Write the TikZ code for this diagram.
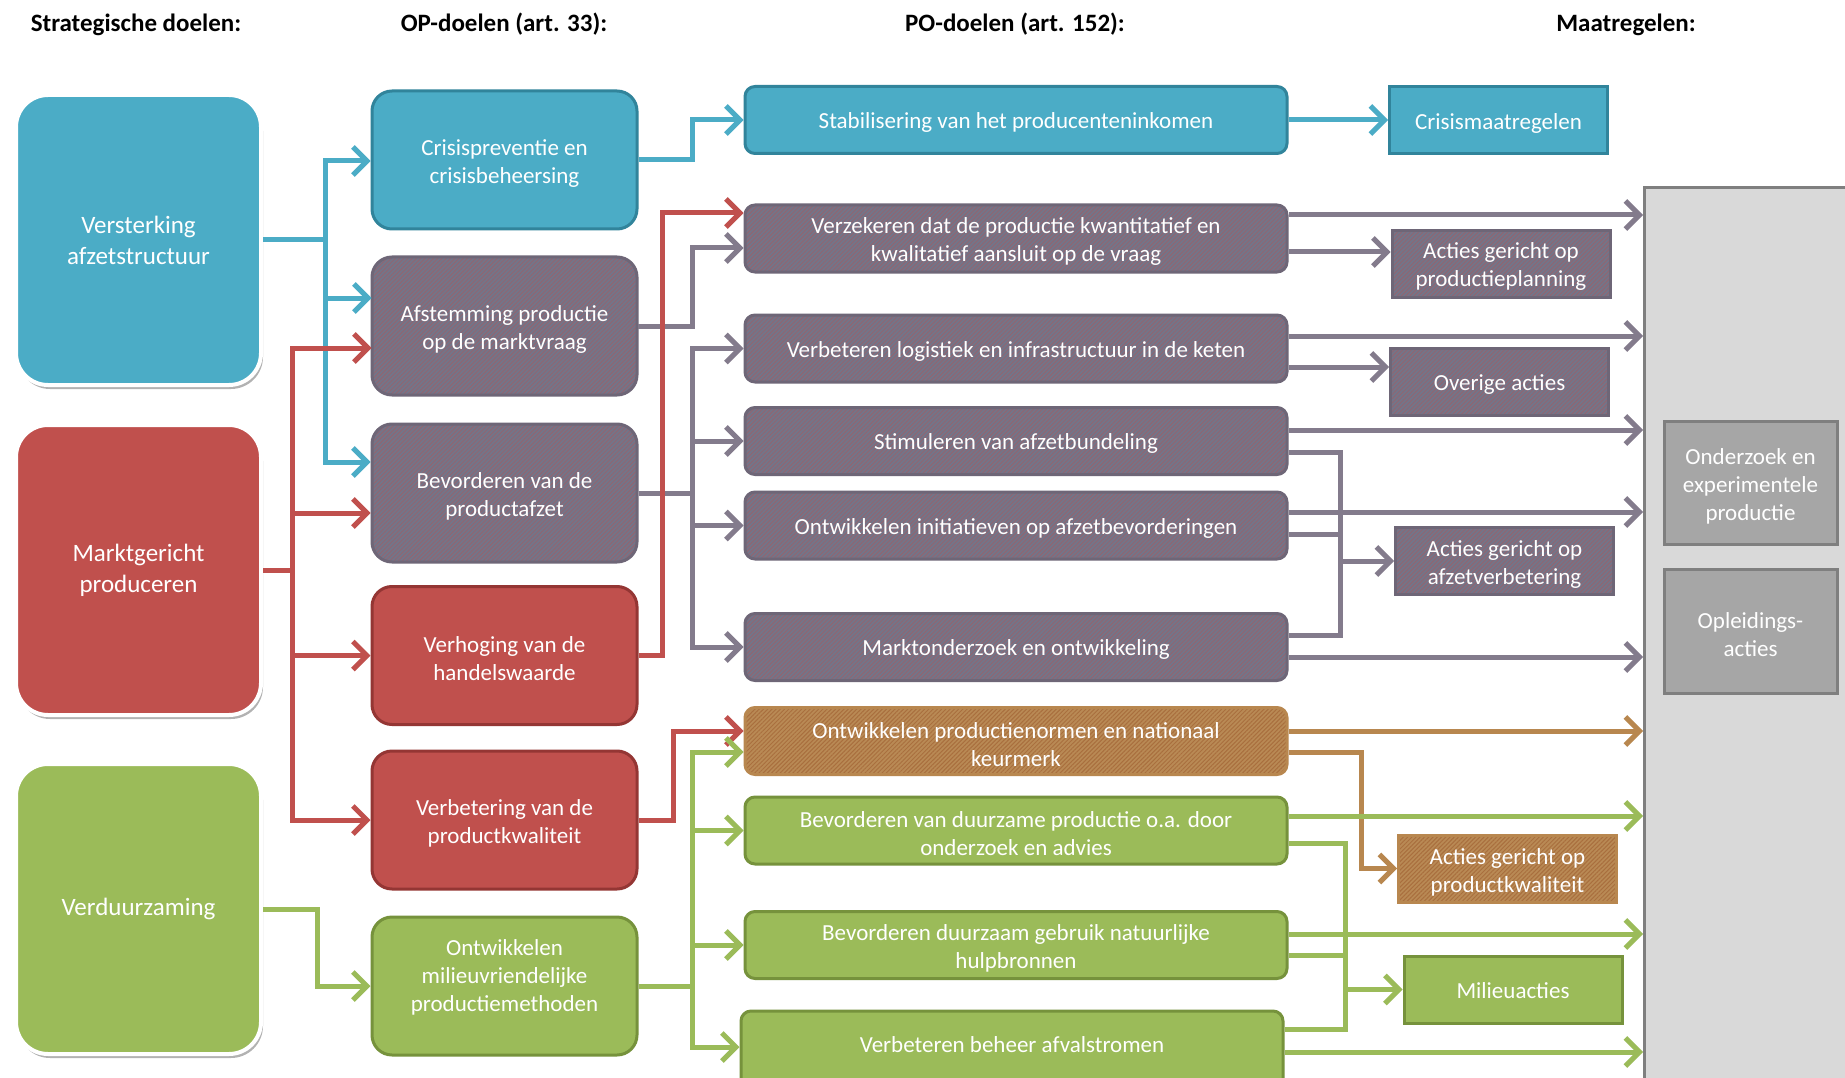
\documentclass[tikz,border=0pt]{standalone}
\usepackage{fontspec}
\setmainfont{Carlito}
\usetikzlibrary{arrows.meta,patterns.meta,shadows}
\definecolor{cblue}{HTML}{4BACC6}
\definecolor{cbluedk}{HTML}{31849B}
\definecolor{cred}{HTML}{C0504D}
\definecolor{creddk}{HTML}{943634}
\definecolor{cgreen}{HTML}{9BBB59}
\definecolor{cgreendk}{HTML}{76923C}
\definecolor{cgrey}{HTML}{837B8C}
\definecolor{cgreydk}{HTML}{6E6677}
\definecolor{cgreybase}{HTML}{737589}
\definecolor{cgreyhatch}{HTML}{8F6672}
\definecolor{cbrown}{HTML}{B8874F}
\definecolor{cbrownbase}{HTML}{B98A55}
\definecolor{cbrownhatch}{HTML}{A96F3E}
\definecolor{cbig}{HTML}{D9D9D9}
\definecolor{cbigdk}{HTML}{7F7F7F}
\definecolor{cmid}{HTML}{A6A6A6}
\tikzset{
  box/.style={rectangle, inner sep=0pt, align=center, text=white, font=\fontsize{23}{28}\selectfont},
  txt/.style={rectangle, inner sep=0pt, align=center, text=white, font=\fontsize{23}{28}\selectfont},
  lowtext/.style={execute at begin node={\rule{0pt}{23pt}}, execute at end node={\rule[-5.75pt]{0pt}{0pt}}},
  sbox/.style={box, rounded corners=32pt, minimum width=245pt, minimum height=290pt, draw=white, line width=4pt,
    drop shadow={shadow xshift=2pt, shadow yshift=-4pt, opacity=0.3, fill=black}, font=\fontsize{25}{31}\selectfont},
  obox/.style={box, rounded corners=20pt, minimum width=265pt, minimum height=138pt, line width=3pt},
  pbox/.style={box, rounded corners=10pt, minimum width=542pt, minimum height=67pt, line width=3pt},
  mbox/.style={box, minimum width=218pt, minimum height=67pt, line width=3pt},
  fblue/.style={fill=cblue, draw=cbluedk},
  fred/.style={fill=cred, draw=creddk},
  fgreen/.style={fill=cgreen, draw=cgreendk},
  fgrey/.style={draw=cgreydk, preaction={fill=cgreybase}, pattern={Lines[angle=45,distance=3pt,line width=1pt]}, pattern color=cgreyhatch},
  fbrown/.style={draw=cbrown, preaction={fill=cbrownbase}, pattern={Lines[angle=45,distance=3pt,line width=1pt]}, pattern color=cbrownhatch},
  head/.style={font=\bfseries\fontsize{25}{30}\selectfont, text=black, inner sep=0pt},
  ln/.style={line width=5pt},
  tip/.style={-{Straight Barb[length=14pt,width=28pt]}},
  lb/.style={draw=cblue}, lr/.style={draw=cred}, lg/.style={draw=cgreen},
  lgr/.style={draw=cgrey}, lbr/.style={draw=cbrown}
}
\begin{document}
\begin{tikzpicture}[x=1pt,y=-1pt]
\useasboundingbox (0,0) rectangle (1845,1078);
\clip (0,0) rectangle (1845,1078);
\fill[white] (0,0) rectangle (1845,1078);

% headers
\node[head] (h1) at (136,24.5) {Strategische doelen:};
\node[head] (h2) at (504,24.5) {OP-doelen (art. 33):};
\node[head] (h3) at (1015,24.5) {PO-doelen (art. 152):};
\node[head] (h4) at (1626,24.5) {Maatregelen:};

% big measures box
\node[draw=cbigdk, fill=cbig, line width=3pt, minimum width=240pt, minimum height=930pt, inner sep=0pt, anchor=north west] (big) at (1643,186) {};
\node[box, fill=cmid, draw=cbigdk, line width=3pt, minimum width=173pt, minimum height=123pt] (B1) at (1750.5,482.5) {};
\node[txt] (B1t) at ([yshift=-3.5pt]B1.center) {Onderzoek en\\experimentele\\productie};
\node[box, fill=cmid, draw=cbigdk, line width=3pt, minimum width=173pt, minimum height=124pt] (B2) at (1750.5,631) {};
\node[txt] (B2t) at ([yshift=-4pt]B2.center) {Opleidings-\\acties};

% strategic goals
\node[sbox, fill=cblue] (S1) at (138.5,240) {Versterking\\afzetstructuur};
\node[sbox, fill=cred] (S2) at (138.5,570) {Marktgericht\\produceren};
\node[sbox, fill=cgreen] (S3) at (138.5,909) {Verduurzaming};

% OP goals
\node[obox, fblue] (O1) at (504.5,160) {};
\node[txt] (O1t) at ([yshift=-3.5pt]O1.center) {Crisispreventie en\\crisisbeheersing};
\node[obox, fgrey] (O2) at (504.5,326) {};
\node[txt] (O2t) at ([yshift=-3.5pt]O2.center) {Afstemming productie\\op de marktvraag};
\node[obox, fgrey] (O3) at (504.5,493) {};
\node[txt] (O3t) at ([yshift=-3pt]O3.center) {Bevorderen van de\\productafzet};
\node[obox, fred] (O4) at (504.5,655.5) {};
\node[txt] (O4t) at ([yshift=-3.5pt]O4.center) {Verhoging van de\\handelswaarde};
\node[obox, fred] (O5) at (504.5,820) {};
\node[txt] (O5t) at ([yshift=-3.5pt]O5.center) {Verbetering van de\\productkwaliteit};
\node[obox, fgreen] (O6) at (504.5,986) {};
\node[txt] (O6t) at ([yshift=9pt]O6.center) {Ontwikkelen\\milieuvriendelijke\\productiemethoden};

% PO goals
\node[pbox, lowtext, fblue] (P1) at (1016,120) {Stabilisering van het producenteninkomen};
\node[pbox, fgrey] (P2) at (1016,238.5) {};
\node[txt] (P2t) at ([yshift=-2.5pt]P2.center) {Verzekeren dat de productie kwantitatief en\\kwalitatief aansluit op de vraag};
\node[pbox, lowtext, fgrey] (P3) at (1016,348.5) {Verbeteren logistiek en infrastructuur in de keten};
\node[pbox, lowtext, fgrey] (P4) at (1016,441) {Stimuleren van afzetbundeling};
\node[pbox, lowtext, fgrey] (P5) at (1016,525.5) {Ontwikkelen initiatieven op afzetbevorderingen};
\node[pbox, lowtext, fgrey] (P6) at (1016,647) {Marktonderzoek en ontwikkeling};
\node[pbox, fbrown] (P7) at (1016,741) {};
\node[txt] (P7t) at ([yshift=-3.5pt]P7.center) {Ontwikkelen productienormen en nationaal\\keurmerk};
\node[pbox, fgreen] (P8) at (1016,830.5) {};
\node[txt] (P8t) at ([yshift=-3.5pt]P8.center) {Bevorderen van duurzame productie o.a. door\\onderzoek en advies};
\node[pbox, fgreen] (P9) at (1016,945) {};
\node[txt] (P9t) at ([yshift=-3.5pt]P9.center) {Bevorderen duurzaam gebruik natuurlijke\\hulpbronnen};
\node[pbox, lowtext, fgreen, minimum height=78pt] (P10) at (1012,1050) {\raisebox{6pt}{Verbeteren beheer afvalstromen}};

% measures
\node[mbox, lowtext, fblue] (M1) at (1498.5,120.5) {Crisismaatregelen};
\node[mbox, fgrey] (M2) at (1501,264) {};
\node[txt] (M2t) at ([yshift=-2.5pt]M2.center) {Acties gericht op\\productieplanning};
\node[mbox, lowtext, fgrey] (M3) at (1499.5,381.5) {Overige acties};
\node[mbox, fgrey] (M4) at (1504.5,561) {};
\node[txt] (M4t) at ([yshift=-3.5pt]M4.center) {Acties gericht op\\afzetverbetering};
\node[mbox, fbrown] (M5) at (1507.5,868.5) {};
\node[txt] (M5t) at ([yshift=-4pt]M5.center) {Acties gericht op\\productkwaliteit};
\node[mbox, lowtext, fgreen] (M6) at (1513,989.5) {Milieuacties};

% ---- connectors, left part ----
% blue
\draw[ln,lb,tip] (S1.east) -- (325,240) |- (O1.west |- 0,161);
\draw[ln,lb,tip] (S1.east) -- (325,240) |- (O2.west |- 0,298);
\draw[ln,lb,tip] (S1.east) -- (325,240) |- (O3.west |- 0,462);
\draw[ln,lb,tip] (O1.east) -- (692,160) |- (P1.west);
\draw[ln,lb,tip] (P1.east) -- (P1.east -| M1.west);
% grey
\draw[ln,lgr,tip] (O2.east) -- (692,326) |- (P2.west |- 0,248);
\draw[ln,lgr,tip] (O3.east) -- (692,493) |- (P3.west);
\draw[ln,lgr,tip] (O3.east) -- (692,493) |- (P4.west);
\draw[ln,lgr,tip] (O3.east) -- (692,493) |- (P5.west);
\draw[ln,lgr,tip] (O3.east) -- (692,493) |- (P6.west);
% red
\draw[ln,lr,tip] (S2.east) -- (292,570) |- (O2.west |- 0,348);
\draw[ln,lr,tip] (S2.east) -- (292,570) |- (O3.west |- 0,513);
\draw[ln,lr,tip] (S2.east) -- (292,570) |- (O4.west);
\draw[ln,lr,tip] (S2.east) -- (292,570) |- (O5.west);
\draw[ln,lr,tip] (O4.east) -- (662,655.5) |- (P2.west |- 0,213);
\draw[ln,lr,tip] (O5.east) -- (673,820) |- (P7.west |- 0,731);
% green
\draw[ln,lg,tip] (S3.east) -- (317,909) |- (O6.west);
\draw[ln,lg,tip] (O6.east) -- (692,986) |- (P7.west |- 0,752);
\draw[ln,lg,tip] (O6.east) -- (692,986) |- (P8.west);
\draw[ln,lg,tip] (O6.east) -- (692,986) |- (P9.west);
\draw[ln,lg,tip] (O6.east) -- (692,986) |- (P10.west |- 0,1047);

% ---- connectors, right part ----
% grey
\draw[ln,lgr,tip] (P2.east |- 0,215) -- (big.west |- 0,215);
\draw[ln,lgr,tip] (P2.east |- 0,252) -- (M2.west |- 0,252);
\draw[ln,lgr,tip] (P3.east |- 0,336) -- (big.west |- 0,336);
\draw[ln,lgr,tip] (P3.east |- 0,367) -- (M3.west |- 0,367);
\draw[ln,lgr,tip] (P4.east |- 0,430) -- (big.west |- 0,430);
\draw[ln,lgr] (P4.east |- 0,452) -| (1340,635) -- (P6.east |- 0,635);
\draw[ln,lgr] (P5.east |- 0,534) -- (1340,534);
\draw[ln,lgr,tip] (P5.east |- 0,512) -- (big.west |- 0,512);
\coordinate (gt) at (1340,561);
\draw[ln,lgr,tip] (gt) -- (M4.west);
\draw[ln,lgr,tip] (P6.east |- 0,657) -- (big.west |- 0,657);
% brown
\draw[ln,lbr,tip] (P7.east |- 0,731) -- (big.west |- 0,731);
\draw[ln,lbr,tip] (P7.east |- 0,752) -| (1361,868.5) -- (M5.west);
% green
\draw[ln,lg,tip] (P8.east |- 0,816) -- (big.west |- 0,816);
\draw[ln,lg] (P8.east |- 0,843) -| (1345,1029) -- (P10.east |- 0,1029);
\draw[ln,lg] (P9.east |- 0,955) -- (1345,955);
\draw[ln,lg,tip] (P9.east |- 0,934) -- (big.west |- 0,934);
\coordinate (gn) at (1345,989.5);
\draw[ln,lg,tip] (gn) -- (M6.west);
\draw[ln,lg,tip] (P10.east |- 0,1052) -- (big.west |- 0,1052);
\end{tikzpicture}
\end{document}
